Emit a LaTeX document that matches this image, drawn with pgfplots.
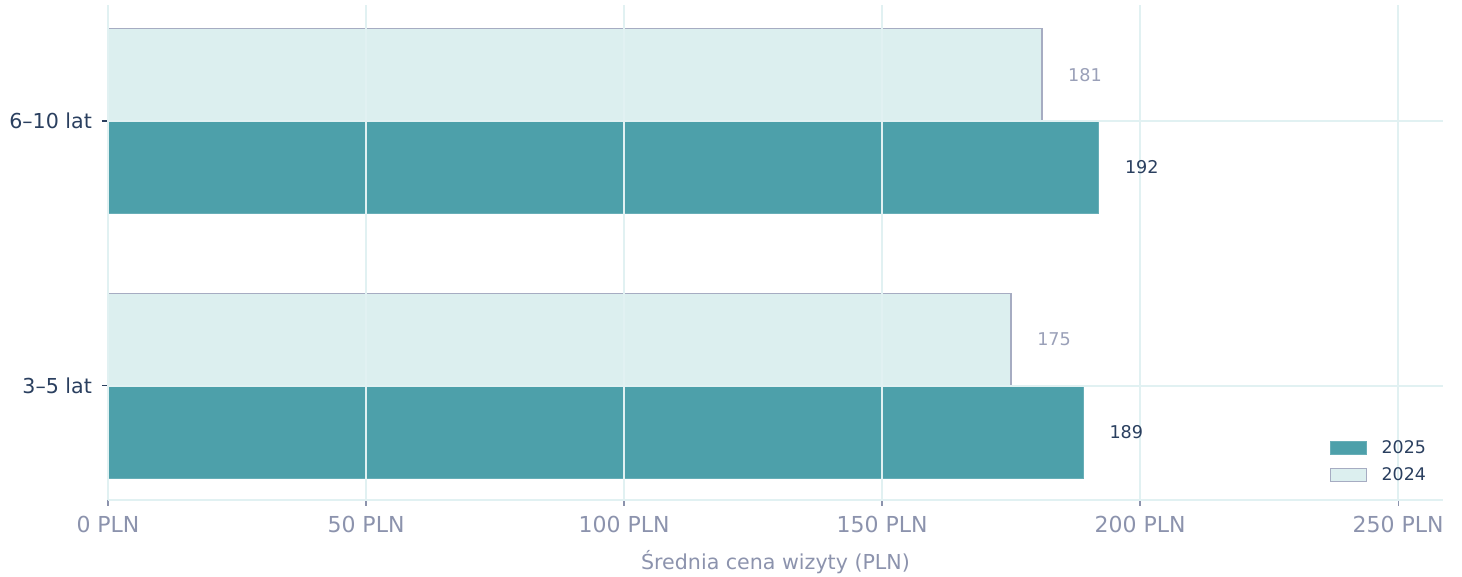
\documentclass[border=0pt]{standalone}
\usepackage{fontspec}
\setmainfont{DejaVu Sans}
\usepackage{pgfplots}
\pgfplotsset{compat=1.18}
\definecolor{teal25}{HTML}{4DA0AA}
\definecolor{light24}{HTML}{DCEFEF}
\definecolor{edge24}{HTML}{A6ACC2}
\definecolor{gridc}{HTML}{E1F1F2}
\definecolor{navy}{HTML}{2A3F5F}
\definecolor{grayt}{HTML}{8C93AD}
\definecolor{grayv}{HTML}{9AA0B8}
\begin{document}
\begin{tikzpicture}
\useasboundingbox (-54pt,-38.5pt) rectangle (677pt,250pt);
\begin{axis}[
  at={(0,0)}, anchor=south west,
  scale only axis, width=667.5pt, height=247.5pt,
  xmin=0, xmax=258.7, ymin=-0.432, ymax=1.439,
  xbar, bar width=0.35,
  ytick={0,1}, yticklabels={3–5 lat,6–10 lat},
  xtick={0,50,100,150,200,250},
  xticklabels={0 PLN,50 PLN,100 PLN,150 PLN,200 PLN,250 PLN},
  axis x line*=bottom, axis y line*=left,
  axis line style={gridc, line width=0.9pt},
  grid=major, major grid style={gridc, line width=0.9pt},
  axis on top,
  tick align=outside, major tick length=3pt,
  xtick style={grayt, line width=0.6pt},
  ytick style={navy, line width=0.7pt},
  xticklabel style={font=\fontsize{11}{13}\selectfont, text=grayt, yshift=-1.5pt},
  yticklabel style={font=\fontsize{10.3}{12}\selectfont, text=navy, xshift=-1.5pt},
  xlabel={Średnia cena wizyty (PLN)},
  xlabel style={font=\fontsize{10.3}{12}\selectfont, text=grayt, at={(axis description cs:0.5,0)}, anchor=base, yshift=-35pt},
  /pgf/number format/assume math mode=true,
  legend style={draw=none, fill=none, font=\fontsize{8.7}{10}\selectfont, text=navy,
    at={(rel axis cs:0.995,0.017)}, anchor=south east, legend cell align=left, row sep=1.5pt},
  legend image code/.code={\draw[#1, line width=0.6pt] (0pt,-3pt) rectangle (18pt,3.3pt); \path[draw=none,fill=none] (18pt,0pt) -- (23.5pt,0pt);},
]
\addplot[fill=teal25, draw=teal25!85!white, line width=0.5pt, bar shift=-0.175,
  nodes near coords, every node near coord/.append style={anchor=center, xshift=21.5pt, text=navy, font=\fontsize{8.8}{10}\selectfont}]
  coordinates {(189,0) (192,1)};
\addlegendentry{2025}
\addplot[fill=light24, draw=edge24, line width=0.6pt, bar shift=0.175,
  nodes near coords, every node near coord/.append style={anchor=center, xshift=21.5pt, text=grayv, font=\fontsize{8.8}{10}\selectfont}]
  coordinates {(175,0) (181,1)};
\addlegendentry{2024}
\end{axis}
\end{tikzpicture}
\end{document}
